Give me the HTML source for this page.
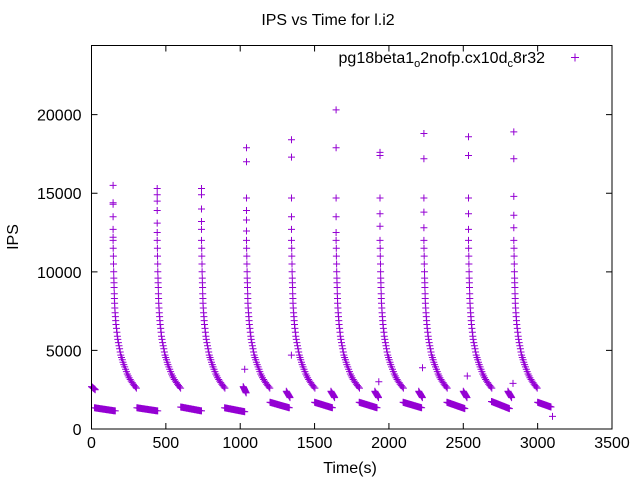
<!DOCTYPE html>
<html><head><meta charset="utf-8"><style>
body{margin:0;background:#fff}
svg{display:block;font-family:"Liberation Sans",sans-serif}
</style></head><body>
<svg id="chart" width="640" height="480">
<rect x="0" y="0" width="640" height="480" fill="#fff"/>
<text x="328" y="25" font-size="16" text-anchor="middle">IPS vs Time for l.i2</text>
<text x="18" y="237" font-size="16" text-anchor="middle" transform="rotate(-90 18 237)">IPS</text>
<text x="350" y="473" font-size="16" text-anchor="middle">Time(s)</text>
<g id="axes"></g>
<g id="points"></g>
<g>
<text x="545" y="63" font-size="16" text-anchor="end">pg18beta1<tspan font-size="11" dy="4">o</tspan><tspan dy="-4">2nofp.cx10d</tspan><tspan font-size="11" dy="4">c</tspan><tspan dy="-4">8r32</tspan></text>
<path d="M571 57.5h8M575 53.5v8" stroke="#9400d3" stroke-width="1"/>
</g>
<rect x="91.5" y="45.5" width="520.5" height="383.5" fill="none" stroke="#000" stroke-width="1"/>
</svg>
<script>
const xTicks=[0,500,1000,1500,2000,2500,3000,3500];
const yTicks=[0,5000,10000,15000,20000];
const peakTimes=[145,442,740,1042,1345,1645,1940,2235,2535,2840];
const highValues=[
 [15500,14400,14300,13500,12700,12200],
 [15300,14900,14500,13900,13100,12500],
 [15300,14900,14000,13200,12700],
 [17900,17000,14700,13900,13300,12600],
 [18400,17300,14700,13500,12700],
 [20300,17900,14700,13500,12500],
 [17600,17400,14700,13700,12900],
 [18800,17200,14700,13800,12800],
 [18600,17400,14700,13700,12700],
 [18900,17200,14800,13600,12800]];
const decayOffsets=[0,1,2,3,4,5,6,7,8,9,10,12,14,16,18,20,23,26,29,32,36,40,44,48,52,57,62,67,72,78,84,90,96,102,108,115,122,129,136,143,150,157];
const decayValues=[12000,11500,11000,10500,10000,9600,9300,9000,8600,8300,8000,7700,7400,7150,6900,6650,6400,6150,5900,5700,5500,5300,5100,4900,4700,4550,4400,4250,4100,3950,3800,3650,3500,3380,3260,3150,3050,2950,2850,2760,2680,2600];
const segStarts=[0,20,305,600,895,1020,1200,1310,1500,1610,1800,1905,2095,2200,2390,2500,2690,2800,3000];
const segEnds=[25,160,445,740,1030,1040,1330,1335,1620,1635,1920,1930,2220,2225,2510,2525,2810,2825,3090];
const segFrom=[2700,1350,1350,1400,1350,2700,1700,2400,1700,2400,1700,2400,1700,2400,1700,2400,1750,2400,1700];
const segTo=[2500,1150,1150,1150,1100,2300,1350,2000,1350,2000,1350,2000,1350,2000,1300,2000,1300,2000,1400];
const singleTimes=[1030,1344,1932,2226,2527,2834,3100];
const singleValues=[3800,4700,3000,3900,3370,2900,800];

const X0=91.5,X1=612,Y0=429,Y1=45.5;
const xs=t=>X0+t/3500*(X1-X0);
const ys=v=>Y0-v/24400*(Y0-Y1);
const NS="http://www.w3.org/2000/svg";
const axes=document.getElementById('axes');
const pts=document.getElementById('points');
function txt(x,y,s,anchor){const e=document.createElementNS(NS,'text');e.setAttribute('x',x);e.setAttribute('y',y);e.setAttribute('font-size','16');e.setAttribute('text-anchor',anchor);e.textContent=s;axes.appendChild(e);return e;}
xTicks.forEach(t=>{const x=xs(t);const p=document.createElementNS(NS,'path');p.setAttribute('d',`M${x} ${Y0}v-6M${x} ${Y1}v6`);p.setAttribute('stroke','#000');


axes.appendChild(p);const e=txt(x,Y0+19,String(t),'middle');

});
yTicks.forEach(v=>{const y=ys(v);const p=document.createElementNS(NS,'path');p.setAttribute('d',`M${X0} ${y}h6M${X1} ${y}h-6`);p.setAttribute('stroke','#000');


axes.appendChild(p);const e=txt(X0-10,y+6,String(v),'end');

});
let d='';
function plus(t,v){const x=xs(t),y=ys(v);d+=`M${(x-3.5).toFixed(1)} ${y.toFixed(1)}h7M${x.toFixed(1)} ${(y-3.5).toFixed(1)}v7`;}
peakTimes.forEach((p,i)=>{
 highValues[i].forEach(v=>plus(p,v));
 decayOffsets.forEach((o,j)=>plus(p+o,decayValues[j]));
});
segStarts.forEach((s,i)=>{
 const n=Math.max(2,Math.round((segEnds[i]-s)/3));
 for(let k=0;k<=n;k++){plus(s+(segEnds[i]-s)*k/n,segFrom[i]+(segTo[i]-segFrom[i])*k/n);}
});
singleTimes.forEach((t,i)=>plus(t,singleValues[i]));
const path=document.createElementNS(NS,'path');
path.setAttribute('d',d);path.setAttribute('stroke','#9400d3');path.setAttribute('stroke-width','1');path.setAttribute('fill','none');


pts.appendChild(path);
</script>
</body></html>
